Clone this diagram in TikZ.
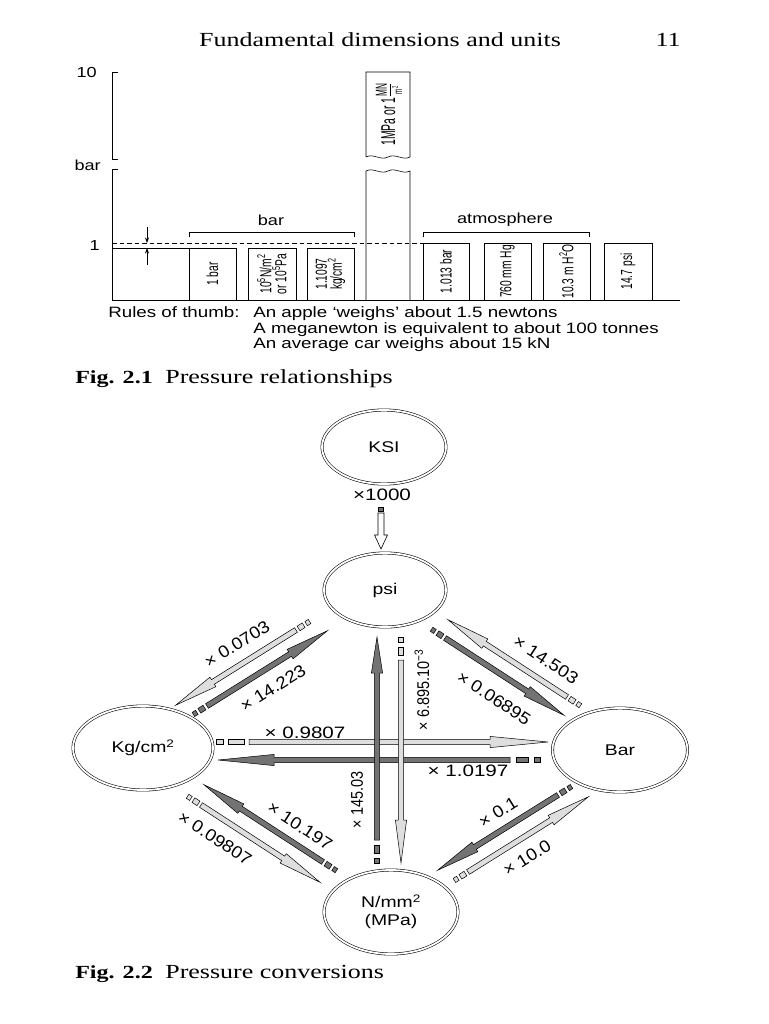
\documentclass[tikz,border=0pt]{standalone}
\usepackage{fontspec}
\setmainfont{Liberation Serif}[FakeStretch=1.3]
\newfontfamily\hv{Liberation Sans}[FakeStretch=1.25]
\newfontfamily\hvr{Liberation Sans}[FakeStretch=0.64]
\newfontfamily\hvm{Liberation Sans}[FakeStretch=0.52]
\newfontfamily\hvv{Liberation Sans}[FakeStretch=0.85]
\newfontfamily\hvd{Liberation Sans}[FakeStretch=1.1]
\usetikzlibrary{shapes.geometric,arrows.meta}
\definecolor{darkarr}{gray}{0.45}
\definecolor{lightarr}{gray}{0.87}
\tikzset{
  pics/fatarr/.style n args={6}{code={
    \filldraw[fill=#2, draw=black, line width=0.5pt]
      (0,-2.7) -- ({#1-#6},-2.7) -- ({#1-#6},-5.6) -- (#1,0) -- ({#1-#6},5.6) -- ({#1-#6},2.7) -- (0,2.7) -- cycle;
    \filldraw[fill=#2, draw=black, line width=0.5pt] ({-#5},-2.7) rectangle ({-#5-#3},2.7);
    \filldraw[fill=#2, draw=black, line width=0.5pt] ({-2*#5-#3},-2.4) rectangle ({-2*#5-#3-#4},2.4);
  }},
  ell/.style={ellipse, draw, double, double distance=1.8pt, line width=0.55pt, inner sep=0pt,
    font=\hv\fontsize{15.5}{18}\selectfont, align=center},
  txt/.style={inner sep=0pt, font=\hv\fontsize{14.5}{17}\selectfont},
  rtxt/.style={inner sep=0pt, font=\hv\fontsize{15}{17}\selectfont},
  boxlab/.style={draw, line width=0.6pt, rotate=90, inner sep=0pt, align=center,
    font=\hvr\fontsize{16}{15}\selectfont},
  hlab/.style={inner sep=0pt, font=\hv\fontsize{16.5}{19}\selectfont},
  dlab/.style={inner sep=0pt, font=\hvd\fontsize{17}{19}\selectfont},
  vlab/.style={inner sep=0pt, rotate=90, font=\hvv\fontsize{17}{19}\selectfont},
  serif/.style={inner sep=0pt, font=\fontsize{20}{24}\selectfont},
  serifb/.style={inner sep=0pt, font=\bfseries\fontsize{18.5}{24}\selectfont},
}
\begin{document}
\begin{tikzpicture}[x=1pt,y=-1pt,line width=0.6pt]
\useasboundingbox (0,0) rectangle (768,1024);
\fill[white] (0,0) rectangle (768,1024);

% ---------- header ----------
\node[serif, anchor=base] (hdr) at (380,47) {Fundamental dimensions and units};
\node[serif, anchor=base east] (pg) at (681,47) {11};

% ---------- Fig 2.1 ----------
\draw (118,72) -- (112,72) -- (112,159) -- (118,159);
\draw (118,169) -- (112,169) -- (112,300) -- (680,300);
\node[txt, anchor=east] (l10) at (97,73) {10};
\node[txt, anchor=east] (lbar) at (101,165) {bar};
\node[txt, anchor=east] (l1) at (100,246) {1};
\draw[dashed, dash pattern=on 4.5pt off 3pt, line width=0.5pt] (112,243) -- (423,243);
\draw[line width=0.5pt] (112,248) -- (189,248);
\coordinate (ad1) at (147,227);
\coordinate (ad2) at (147,243);
\coordinate (au1) at (147,265);
\coordinate (au2) at (147,248);
\draw[line width=0.6pt, -{Stealth[length=5.5pt,width=4pt]}] (ad1) -- (ad2);
\draw[line width=0.6pt, -{Stealth[length=5.5pt,width=4pt]}] (au1) -- (au2);

\draw (189,237) -- (189,232) -- (354,232) -- (354,237);
\node[txt] (gbar) at (271,220) {bar};
\draw (423,237) -- (423,232) -- (589,232) -- (589,237);
\node[txt] (gatm) at (505,220) {atmosphere};

\node[boxlab, minimum width=52pt, minimum height=47pt] (b1) at (212.5,274) {1 bar};
\node[boxlab, minimum width=52pt, minimum height=48pt] (b2) at (272,274)
  {10\textsuperscript{5}N/m\textsuperscript{2}\\or 10\textsuperscript{5}Pa};
\node[boxlab, minimum width=52pt, minimum height=47pt] (b3) at (330.5,274)
  {1.1097\\kg/cm\textsuperscript{2}};
\node[boxlab, minimum width=57pt, minimum height=46pt] (a1) at (446,271.5) {1.013 bar};
\node[boxlab, minimum width=57pt, minimum height=47pt] (a2) at (507.5,271.5) {760 mm Hg};
\node[boxlab, minimum width=57pt, minimum height=47pt] (a3) at (566.5,271.5) {10.3 m H\textsuperscript{2}O};
\node[boxlab, minimum width=57pt, minimum height=48pt] (a4) at (628,271.5) {14.7 psi};

% MPa column (broken)
\draw (366,157) -- (366,72) -- (410,72) -- (410,157)
  .. controls (403,161) and (395,153) .. (388,157)
  .. controls (381,161) and (373,153) .. (366,157);
\draw (366,300) -- (366,171)
  .. controls (373,167) and (381,175) .. (388,171)
  .. controls (395,167) and (403,175) .. (410,171) -- (410,300);
\node[inner sep=0pt, rotate=90, font=\hvm\fontsize{20}{20}\selectfont] (mpa) at (389,114)
  {1MPa or 1$\frac{\mbox{\hvm\fontsize{16}{16}\selectfont MN}}{\mbox{\hvm\fontsize{12}{12}\selectfont m\textsuperscript{2}}}$};

% rules of thumb
\node[rtxt, anchor=base west] (rt) at (108,317) {Rules of thumb:};
\node[rtxt, anchor=base west] (rt1) at (253,317) {An apple ‘weighs’ about 1.5 newtons};
\node[rtxt, anchor=base west] (rt2) at (253,333) {A meganewton is equivalent to about 100 tonnes};
\node[rtxt, anchor=base west] (rt3) at (253,348.5) {An average car weighs about 15 kN};

\node[serifb, anchor=base west] (f1) at (75,383) {Fig. 2.1};
\node[serif, anchor=base west] (f1t) at (165,383) {Pressure relationships};

% ---------- Fig 2.2 ----------
\node[ell, minimum width=124pt, minimum height=74pt] (ksi) at (384,447) {KSI};
\node[ell, minimum width=122pt, minimum height=74pt] (psi) at (385,590) {psi};
\node[ell, minimum width=140pt, minimum height=84pt] (kg) at (143,748) {Kg/cm\textsuperscript{2}};
\node[ell, minimum width=135pt, minimum height=84pt] (bar) at (620,750) {Bar};
\node[ell, minimum width=134pt, minimum height=84pt] (nmm) at (391,912) {N/mm\textsuperscript{2}\\(MPa)};

\node[hlab] (k1000) at (382,495) {×1000};
\filldraw[fill=darkarr, line width=0.5pt] (378.5,507) rectangle (383.5,511);
\filldraw[fill=white, line width=0.6pt] (378,513) -- (378,535) -- (374.5,535) -- (381,549)
  -- (387.5,535) -- (384,535) -- (384,513) -- cycle;

% horizontal pair
\coordinate (th1) at (249,742);
\coordinate (th2) at (510,760);
\pic[rotate=0] at (th1) {fatarr={299}{lightarr}{16}{7}{5}{58}};
\pic[rotate=180] at (th2) {fatarr={292}{darkarr}{12}{6}{6}{56}};
\node[hlab] (lh1) at (305,733) {× 0.9807};
\node[hlab] (lh2) at (468,771) {× 1.0197};

% vertical pair
\coordinate (tv1) at (377,840);
\coordinate (tv2) at (401,660);
\pic[rotate=90] at (tv1) {fatarr={203}{darkarr}{8}{5}{5}{36}};
\pic[rotate=-90] at (tv2) {fatarr={203}{lightarr}{8}{5}{5}{43}};
\node[vlab] (lv1) at (357,800) {× 145.03};
\node[vlab] (lv2) at (422,690) {× 6.895.10\textsuperscript{−3}};

% Kg - psi pair
\coordinate (tk1) at (296,630);
\coordinate (tk2) at (207,706);
\pic[rotate=212] at (tk1) {fatarr={142}{lightarr}{6}{4}{3}{44}};
\pic[rotate=32] at (tk2) {fatarr={142}{darkarr}{6}{4}{3}{44}};
\node[dlab, rotate=32] (lk1) at (237,644) {× 0.0703};
\node[dlab, rotate=32] (lk2) at (273,688) {× 14.223};

% psi - Bar pair
\coordinate (tb1) at (567,697);
\coordinate (tb2) at (445,638);
\pic[rotate=147] at (tb1) {fatarr={142}{lightarr}{6}{4}{3}{44}};
\pic[rotate=-33] at (tb2) {fatarr={142}{darkarr}{6}{4}{3}{44}};
\node[dlab, rotate=-33] (lb1) at (546,660) {× 14.503};
\node[dlab, rotate=-33] (lb2) at (494,698) {× 0.06895};

% Kg - N pair
\coordinate (tn1) at (323,862);
\coordinate (tn2) at (201,805);
\pic[rotate=147] at (tn1) {fatarr={142}{darkarr}{6}{4}{3}{44}};
\pic[rotate=-33] at (tn2) {fatarr={142}{lightarr}{6}{4}{3}{44}};
\node[dlab, rotate=-33] (ln1) at (300,826) {× 10.197};
\node[dlab, rotate=-33] (ln2) at (215,838) {× 0.09807};

% N - Bar pair
\coordinate (tm1) at (558,795);
\coordinate (tm2) at (468,872);
\pic[rotate=212] at (tm1) {fatarr={142}{darkarr}{6}{4}{3}{44}};
\pic[rotate=32] at (tm2) {fatarr={142}{lightarr}{6}{4}{3}{44}};
\node[dlab, rotate=32] (lm1) at (498,812) {× 0.1};
\node[dlab, rotate=32] (lm2) at (527,858) {× 10.0};

\node[serifb, anchor=base west] (f2) at (75,978) {Fig. 2.2};
\node[serif, anchor=base west] (f2t) at (165,978) {Pressure conversions};
\end{tikzpicture}
\end{document}
